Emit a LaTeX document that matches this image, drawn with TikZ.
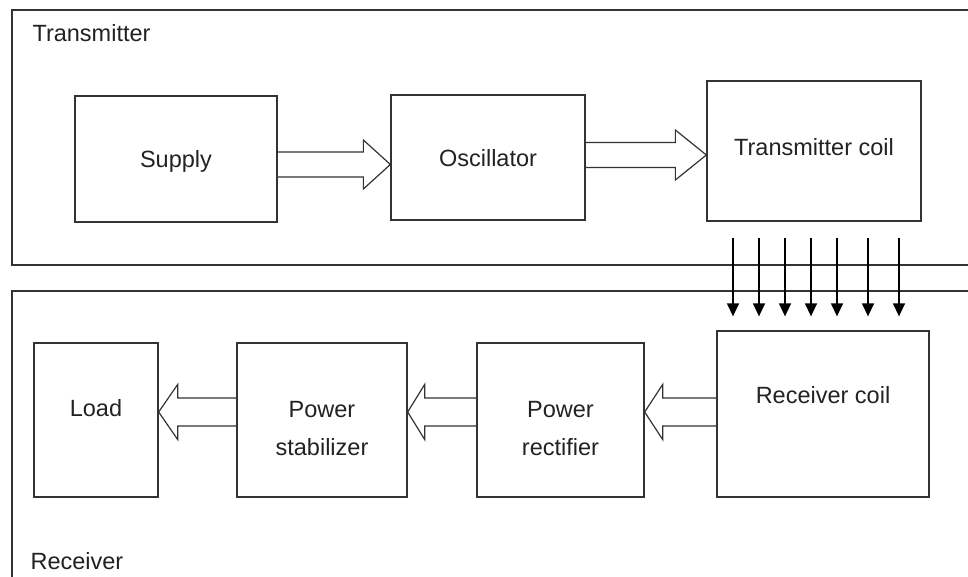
\documentclass[tikz,border=0pt]{standalone}
\usepackage{fontspec}
\setmainfont{Liberation Sans}
\usetikzlibrary{arrows.meta,calc}
\definecolor{ln}{HTML}{333333}
\definecolor{tx}{HTML}{222222}
\newcommand\blockarrow[6]{%
  \draw[barrow] let \p1=(#1), \p2=(#2), \p3=(0,#3) in
    (\x1,\y3+#4) -- (\x2+#6,\y3+#4) -- (\x2+#6,\y3+#5) -- (\x2,\y3)
    -- (\x2+#6,\y3-#5) -- (\x2+#6,\y3-#4) -- (\x1,\y3-#4);}
\begin{document}
\begin{tikzpicture}[x=1pt,y=-1pt,
  every node/.style={text=tx,font=\fontsize{23.5}{38}\selectfont},
  blk/.style={draw=ln,line width=1.3pt,rectangle,inner sep=0pt},
  frm/.style={draw=ln,line width=1.3pt},
  barrow/.style={draw=ln,line width=1.2pt,line join=miter},
  sarrow/.style={draw=black,line width=1.4pt,-{Triangle[length=13pt,width=12pt]}},
  lbl/.style={align=center}]
\useasboundingbox (0,0) rectangle (968,577);
% frames
\draw[frm] (980,10) -- (12,10) -- (12,265) -- (980,265);
\draw[frm] (980,291) -- (12,291) -- (12,590);
\node[anchor=west] (tlab) at (29,33) {Transmitter};
\node[anchor=west] (rlab) at (27,561) {Receiver};
% transmitter blocks
\node[blk,minimum width=202pt,minimum height=126pt,
  label={[lbl,yshift=-2pt]center:Supply}] (sup) at (176,159) {};
\node[blk,minimum width=194pt,minimum height=125pt,
  label={[lbl,yshift=-1pt]center:Oscillator}] (osc) at (488,157.5) {};
\node[blk,minimum width=214pt,minimum height=140pt,
  label={[lbl,yshift=4pt]center:Transmitter coil}] (tc) at (814,151) {};
% receiver blocks
\node[blk,minimum width=212pt,minimum height=166pt,
  label={[lbl,yshift=19pt]center:Receiver coil}] (rc) at (823,414) {};
\node[blk,minimum width=167pt,minimum height=154pt,
  label={[lbl,yshift=-9pt]center:Power\\rectifier}] (pr) at (560.5,420) {};
\node[blk,minimum width=170pt,minimum height=154pt,
  label={[lbl,yshift=-9pt]center:Power\\stabilizer}] (ps) at (322,420) {};
\node[blk,minimum width=124pt,minimum height=154pt,
  label={[lbl,yshift=12pt]center:Load}] (ld) at (96,420) {};
% block arrows
\blockarrow{sup.east}{osc.west}{164.5}{12.5pt}{24.5pt}{-27pt}
\blockarrow{osc.east}{tc.west}{155}{12.5pt}{25pt}{-31pt}
\blockarrow{rc.west}{pr.east}{412}{14pt}{27.5pt}{18pt}
\blockarrow{pr.west}{ps.east}{412}{14pt}{27.5pt}{17pt}
\blockarrow{ps.west}{ld.east}{412}{14pt}{27.5pt}{19pt}
% field arrows
\foreach \xx in {733,759,785,811,837,868,899}{
  \draw[sarrow] ($(tc.south -| \xx,0)+(0,16)$) -- ($(rc.north -| \xx,0)+(0,-14)$);
}
\end{tikzpicture}
\end{document}
